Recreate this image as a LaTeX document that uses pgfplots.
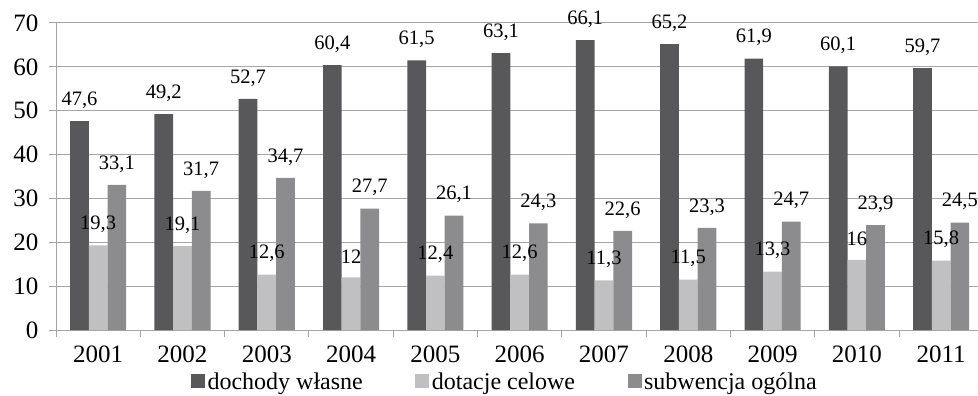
\documentclass[border=0pt]{standalone}
\usepackage{pgfplots}
\pgfplotsset{compat=1.18}
\usepackage{fontspec}
\setmainfont{Liberation Serif}
\definecolor{cdark}{RGB}{88,88,90}
\definecolor{clight}{RGB}{192,192,194}
\definecolor{cmid}{RGB}{140,140,142}
\definecolor{cgrid}{RGB}{165,165,165}
\begin{document}
\begin{tikzpicture}
\begin{axis}[
  at={(0,0)}, anchor=south west,
  scale only axis,
  x=84.3bp, y=4.386bp,
  xmin=-0.5, xmax=10.44,
  ymin=0, ymax=70,
  ybar, bar width=18.7bp,
  axis lines*=left,
  axis line style={cgrid, line width=1bp},
  ytick={0,10,...,70},
  ymajorgrids,
  grid style={cgrid, line width=1bp},
  xtick={0,...,10},
  xticklabels={2001,2002,2003,2004,2005,2006,2007,2008,2009,2010,2011},
  minor xtick={-0.5,0.5,...,10.5},
  major x tick style={draw=none},
  minor tick length=7bp,
  major tick length=7bp,
  tick align=outside,
  tick style={cgrid, line width=1bp},
  tick label style={font=\fontsize{25bp}{28bp}\selectfont, text=black},
  yticklabel style={xshift=-7bp},
  xticklabel style={yshift=-5bp},
  /pgf/number format/assume math mode=true,
  nodes near coords,
  /pgf/number format/use comma,
  every node near coord/.append style={font=\fontsize{20.5bp}{24bp}\selectfont, text=black, anchor=center, yshift=21bp},
  legend columns=3,
  legend style={at={(0.487,-0.169)}, anchor=center, draw=none, fill=none,
    font=\fontsize{24bp}{28bp}\selectfont,
    nodes={inner sep=2.5bp},
    /tikz/every even column/.append style={column sep=50bp},
    inner sep=0pt},
  legend image code/.code={\fill[#1] (0bp,-6bp) rectangle (14bp,8bp);},
]
\addplot[fill=cdark, draw=none, bar shift=-18.7bp] coordinates {(0,47.6) (1,49.2) (2,52.7) (3,60.4) (4,61.5) (5,63.1) (6,66.1) (7,65.2) (8,61.9) (9,60.1) (10,59.7)};
\addplot[fill=clight, draw=none, bar shift=0bp] coordinates {(0,19.3) (1,19.1) (2,12.6) (3,12) (4,12.4) (5,12.6) (6,11.3) (7,11.5) (8,13.3) (9,16) (10,15.8)};
\addplot[fill=cmid, draw=none, bar shift=18.7bp] coordinates {(0,33.1) (1,31.7) (2,34.7) (3,27.7) (4,26.1) (5,24.3) (6,22.6) (7,23.3) (8,24.7) (9,23.9) (10,24.5)};
\legend{dochody własne, dotacje celowe, subwencja ogólna}
\end{axis}
\pgfresetboundingbox
\path[use as bounding box] (-56bp,-66bp) rectangle (922bp,330bp);
\end{tikzpicture}
\end{document}
